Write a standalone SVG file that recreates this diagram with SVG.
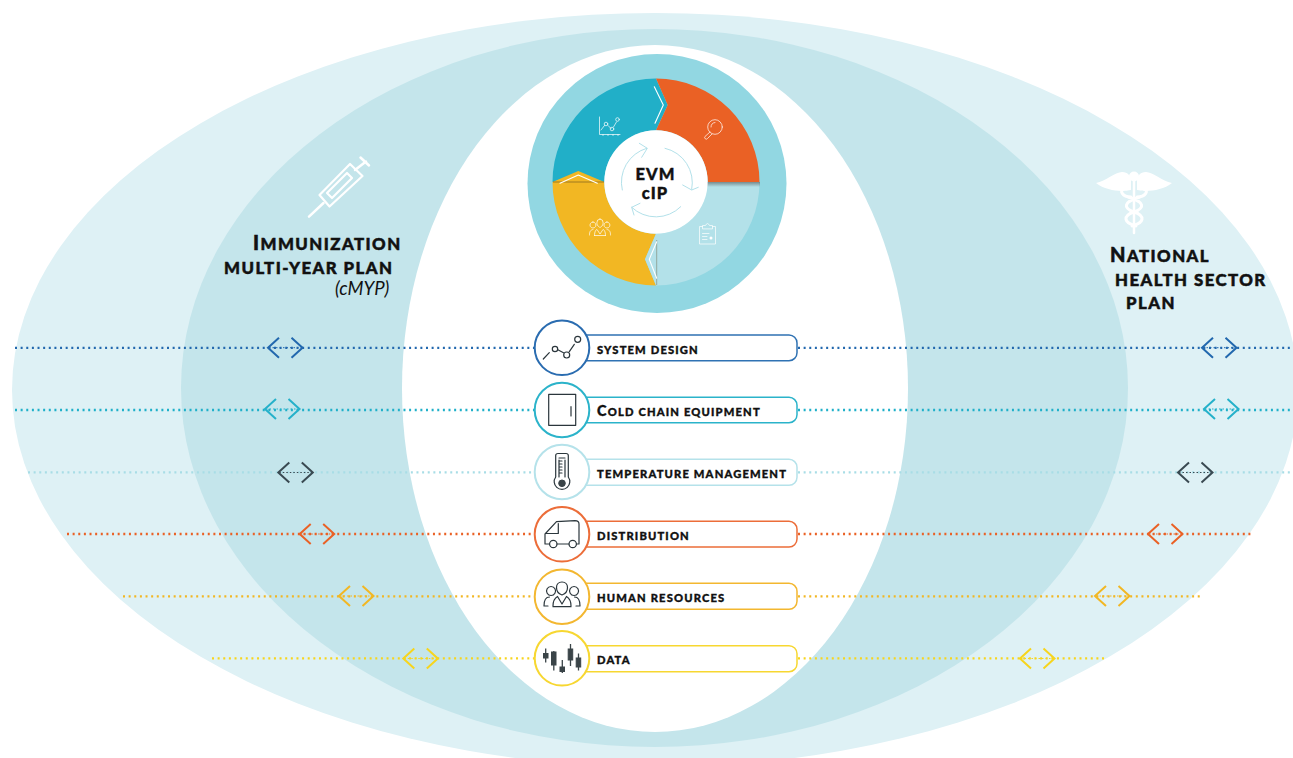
<svg xmlns="http://www.w3.org/2000/svg" xmlns:xlink="http://www.w3.org/1999/xlink" width="1293" height="758" viewBox="0 0 1293 758">
<style>
text{font-family:"Lato","Open Sans","Liberation Sans",sans-serif;fill:#111}
.lab{font-size:11.2px;font-weight:900;text-transform:uppercase;letter-spacing:1.15px;stroke:#111;stroke-width:.35px}
.lab .cap{font-size:14.5px}
.head{font-size:16.8px;font-weight:900;text-transform:uppercase;letter-spacing:1.45px;stroke:#111;stroke-width:.5px}
.head .cap{font-size:20px}
.sub{font-size:18.5px;font-style:italic}
.evm{font-size:16.5px;font-weight:900;letter-spacing:1px;text-anchor:middle;stroke:#111;stroke-width:.4px}
.dot{fill:none;stroke-width:2.300;stroke-dasharray:2 3.630}
.chev{fill:none;stroke:currentColor;stroke-width:2}
.inner{fill:none;stroke:currentColor;stroke-width:1;stroke-dasharray:1.5 2}
.pill{fill:#fff;stroke-width:1.5}
.ring{fill:#fff;stroke-width:2}
.ic{fill:none;stroke:#2b363c;stroke-width:1.2;stroke-linecap:round;stroke-linejoin:round}
.icf{fill:#3a4448;stroke:#3a4448;stroke-width:1}
.w{fill:none;stroke:#fff;stroke-width:.7;stroke-linecap:round;stroke-linejoin:round}
.wc{fill:none;stroke:#fff;stroke-width:1.1;stroke-linecap:round;stroke-linejoin:round}
.wa{fill:none;stroke:#a9dde6;stroke-width:.9;stroke-linecap:round;stroke-linejoin:round}
.sy{fill:none;stroke:#fff;stroke-linecap:round;stroke-linejoin:round}
</style>
<defs>
<g id="dbl"><path class="inner" d="M1 0H34"/><path class="chev" d="M11-10 0 0 11 10M23.5-10 34.5 0 23.5 10"/></g>
<linearGradient id="sh" x1="0" y1="0" x2="0" y2="1"><stop offset="0" stop-color="#444" stop-opacity=".55"/><stop offset="1" stop-color="#444" stop-opacity="0"/></linearGradient>
</defs>
<rect width="1293" height="758" fill="#fff"/>
<g id="backdrop">
<ellipse id="outer-plan" cx="655" cy="390" rx="643" ry="377" fill="#def1f5"/>
<ellipse id="middle-plan" cx="654.5" cy="388" rx="473.5" ry="359" fill="#c4e5eb"/>
<ellipse id="core" cx="655" cy="388.5" rx="253" ry="343.5" fill="#fff"/>
</g>
<g id="connectors">
<path class="dot" stroke="#2268ae" d="M15 347.800H534M798 347.800H1293"/>
<path class="dot" stroke="#1fb0c9" d="M15 410H534M798 410H1293"/>
<path class="dot" stroke="#a8dde6" d="M28 472.300H534M798 472.300H1290"/>
<path class="dot" stroke="#ea6125" d="M67 534H534M798 534H1252"/>
<path class="dot" stroke="#f2b723" d="M123 596.300H534M798 596.300H1200"/>
<path class="dot" stroke="#f7d51d" d="M212 658.300H534M798 658.300H1107"/>
<use href="#dbl" x="268" y="347.700" color="#2268ae"/><use href="#dbl" x="1202" y="347.700" color="#2268ae"/>
<use href="#dbl" x="265" y="409" color="#25b1ca"/><use href="#dbl" x="1204" y="409" color="#25b1ca"/>
<use href="#dbl" x="278.300" y="472.500" color="#3a4a52"/><use href="#dbl" x="1178" y="472.500" color="#3a4a52"/>
<use href="#dbl" x="299.700" y="534" color="#ea6125"/><use href="#dbl" x="1148" y="534" color="#ea6125"/>
<use href="#dbl" x="339" y="596" color="#f2b723"/><use href="#dbl" x="1095" y="596" color="#f2b723"/>
<use href="#dbl" x="403.300" y="658.500" color="#f7d51d"/><use href="#dbl" x="1020" y="658.500" color="#f7d51d"/>
</g>
<g id="evm-wheel">
<circle cx="657" cy="183.500" r="129.500" fill="#92d7e2"/>
<path id="seg-data" fill="#21afc8" d="M656 78.500A103.500 103.500 0 0 0 552.500 182H604.300A51.700 51.700 0 0 1 656 130.300L667.700 105Z"/>
<path id="seg-assess" fill="#ea6125" d="M656 78.500A103.500 103.500 0 0 1 759.500 182H707.700A51.700 51.700 0 0 0 656 130.300L667.700 105Z"/>
<path id="seg-plan" fill="#b3e1e9" d="M759.500 182A103.500 103.500 0 0 1 656 285.500V233.700A51.700 51.700 0 0 0 707.700 182Z"/>
<path id="seg-act" fill="#f2b723" d="M656 285.500A103.500 103.500 0 0 1 552.500 182L578.300 171 604.300 182A51.700 51.700 0 0 0 656 233.700L645 259.300Z"/>
<path fill="#b3e1e9" d="M656 233.700 645 259.300 656 285.500Z"/>
<rect x="700" y="182" width="60" height="5" fill="url(#sh)"/>
<path d="M553 182H604" stroke="#8a6a20" stroke-width=".8"/>
<path d="M656.700 240V285" stroke="#8a9a8a" stroke-width=".8"/>
<path class="wc" d="M654.300 86.700 663.300 105 655 123.300M560 183.300 578.300 175 597.300 183.300M656.700 241.700 649.300 259.300 656.700 278.300"/>
<circle cx="656" cy="182" r="51.700" fill="#fff"/>
<g id="cycle-arrows">
<path class="wa" d="M622.300 190A35 35 0 0 1 646.700 148.300M639.300 143.300 647.300 148.300 641.700 157.300"/>
<path class="wa" d="M665 148.300A35 35 0 0 1 691.700 189.300M682.700 185 691.700 190 698.300 187.300"/>
<path class="wa" d="M680.700 206.700A35 35 0 0 1 631.700 207.300M640 203.300 631.700 207.300 634 215"/>
</g>
<g id="wheel-icons">
<path class="w" d="M599.500 117V134.500H620M603 134.500v1M608 134.500v1M613 134.500v1M618 134.500v1M601 130 604.500 125.500M608 125.500 611 128.500M613.500 127 616.500 122"/>
<circle class="w" cx="606" cy="124" r="1.800"/><circle class="w" cx="612" cy="129" r="1.800"/><circle class="w" cx="617.500" cy="119.500" r="1.800"/>
<circle class="w" cx="715" cy="127" r="7.300"/><path class="w" d="M710 132 705 136.500a1.600 1.600 0 0 0 2.500 2L712 134M711 127a4.500 4.500 0 0 1 4-4.500"/>
<path class="w" d="M702.500 226.500H699.500V244H715.500V226.500H712.500M702.500 228.500V225.500H705.500Q707.500 221.500 709.500 225.500H712.500V228.500ZM702.500 233.500H709M702.500 236.500H707M702.500 239.500H707"/>
<circle cx="711" cy="238" r="1.500" fill="#fff"/>
<path class="w" d="M600 219a3.200 4 0 0 1 3.200 4c0 3-3.200 4.500-3.200 4.500s-3.200-1.500-3.200-4.500a3.200 4 0 0 1 3.200-4ZM593 222a3 3 0 1 1-.1 0ZM607 222a3 3 0 1 1-.1 0ZM589.500 235c0-3 .5-5 3.500-5.500M610.500 235c0-3-.5-5-3.500-5.500M594.500 235.500c0-4 1.500-6 2.500-6l3 4.500 3-4.500c1 0 2.500 2 2.500 6M594.500 235.500H605.500"/>
</g>
<g id="wheel-title">
<text class="evm" x="655.500" y="180">EVM</text>
<text class="evm" x="655" y="199">cIP</text>
</g>
</g>
<g id="immunization-plan">
<g id="syringe">
<path class="sy" stroke-width="2.500" d="M309 216.700 323.500 203"/>
<path class="sy" stroke-width="2.200" d="M319.500 195 350 164 362.500 176 329.500 206.500Z"/>
<path class="sy" stroke-width="2.200" d="M327 193 347 173 352 178 332 198Z"/>
<path class="sy" stroke-width="2.500" d="M355 170 366 161.500M360.500 157.500 369 165.500"/>
</g>
<text class="head" x="253" y="249.500"><tspan class="cap">I</tspan>mmunization</text>
<text class="head" x="224" y="274">multi-year plan</text>
<text class="sub" x="335" y="295">(cMYP)</text>
</g>
<g id="health-plan">
<g id="caduceus">
<path fill="#fff" d="M1096 183C1106 181 1115 172 1122 172 1128 172 1131 176 1131 181V190C1122 192 1106 191 1096 183Z"/>
<path fill="#fff" d="M1172 183C1162 181 1153 172 1146 172 1140 172 1137 176 1137 181V190C1146 192 1162 191 1172 183Z"/>
<circle cx="1134" cy="176.500" r="5" fill="#fff"/>
<path class="sy" stroke-width="2.500" d="M1134 180V233"/>
<path class="sy" stroke-width="3" d="M1131 197C1122 197 1119 190 1124 189M1137 197C1146 197 1149 190 1144 189M1128 197C1145 202 1145 208 1134 212 1122 216 1124 223 1136 226M1140 197C1123 202 1123 208 1134 212 1146 216 1144 223 1132 226"/>
</g>
<text class="head" x="1110" y="261.500"><tspan class="cap">N</tspan>ational</text>
<text class="head" x="1115" y="285.500">health sector</text>
<text class="head" x="1126" y="309">plan</text>
</g>
<g id="row-system-design">
<path class="pill" stroke="#2f72b3" d="M562 335H789A8 8 0 0 1 797 343V352.700A8 8 0 0 1 789 360.700H562Z"/>
<circle class="ring" stroke="#2a6cb0" cx="562" cy="347.800" r="27.300"/>
<path class="ic" d="M543.300 359 549.300 352.700M558.300 350 563.500 352.700M569.300 351.700 574.300 344.300"/>
<circle class="ic" cx="555" cy="349" r="2.700"/><circle class="ic" cx="566.700" cy="355" r="3"/><circle class="ic" cx="577.700" cy="339.300" r="3"/>
<text class="lab" x="597" y="354">system design</text>
</g>
<g id="row-cold-chain">
<path class="pill" stroke="#2bb3ca" d="M562 397.300H789A8 8 0 0 1 797 405.300V414.700A8 8 0 0 1 789 422.700H562Z"/>
<circle class="ring" stroke="#2bb3ca" cx="562" cy="410" r="27.300"/>
<path class="ic" d="M548.700 394.300H575.700V425.300H548.700ZM571 406.700V416"/>
<text class="lab" x="597" y="416"><tspan class="cap">C</tspan>old chain equipment</text>
</g>
<g id="row-temperature">
<path class="pill" stroke="#b5e2ea" d="M562 459.300H789A8 8 0 0 1 797 467.300V477.300A8 8 0 0 1 789 485.300H562Z"/>
<circle class="ring" stroke="#b5e2ea" cx="562" cy="472" r="27.300"/>
<path class="ic" d="M555.700 477V455.500Q555.700 453.500 558 453.500H566Q568.300 453.500 568.300 455.500V477A7.800 7.800 0 1 1 555.700 477ZM559 477V460M565 477V460M559 458H565M559 461H562M559 464H562M559 467H562M559 470H562M559 473H562"/>
<circle class="icf" cx="562" cy="483.300" r="3.300"/>
<text class="lab" x="597" y="478">temperature management</text>
</g>
<g id="row-distribution">
<path class="pill" stroke="#ec6d39" d="M562 521.300H789A8 8 0 0 1 797 529.300V539A8 8 0 0 1 789 547H562Z"/>
<circle class="ring" stroke="#ec6d39" cx="562" cy="534.300" r="27.300"/>
<path class="ic" d="M549.500 544H545V534L556.500 521.700 575 520.700Q579 520.700 579 524V544H576.500M557 544H569M558.300 523.500V533.500H546.500"/>
<circle class="ic" cx="553.300" cy="544" r="3.700"/><circle class="ic" cx="572.700" cy="544" r="3.700"/>
<text class="lab" x="597" y="540">distribution</text>
</g>
<g id="row-human-resources">
<path class="pill" stroke="#f3b730" d="M562 583.300H789A8 8 0 0 1 797 591.300V601.300A8 8 0 0 1 789 609.300H562Z"/>
<circle class="ring" stroke="#f3b730" cx="562" cy="596.700" r="27.300"/>
<path class="ic" d="M562 582C558 582 556.500 585 556.500 587.500 556.500 591 559 594 562 595 565 594 567.500 591 567.500 587.500 567.500 585 566 582 562 582ZM551 586.500A4.500 4.500 0 1 0 551.100 586.500ZM574 586.500A4.500 4.500 0 1 0 574.100 586.500ZM544 606C544 600 546 597 549.500 597M580 606C580 600 578 597 574.500 597M544 606H548M580 606H576M553 606C553 600 555 598 557.500 596.500L562 604 566.500 596.500C569 598 571 600 571 606M553 606.700H571"/>
<text class="lab" x="597" y="602">human resources</text>
</g>
<g id="row-data">
<path class="pill" stroke="#f7d731" d="M562 645.700H789A8 8 0 0 1 797 653.700V663.700A8 8 0 0 1 789 671.700H562Z"/>
<circle class="ring" stroke="#f7d731" cx="562" cy="658.300" r="27.300"/>
<path d="M545.700 648.500V662.500M553.800 651V670.500M562.300 660V673M570.500 644V666M578.500 653.500V670.500" stroke="#3a4448" stroke-width="1.300"/>
<rect class="icf" x="543.500" y="653.500" width="4.500" height="4.500"/><rect class="icf" x="551.500" y="652" width="4.500" height="13"/><rect class="icf" x="560" y="667" width="4.500" height="4.500"/><rect class="icf" x="568.200" y="649" width="4.500" height="11"/><rect class="icf" x="576.200" y="658" width="4.500" height="9"/>
<text class="lab" x="597" y="664">data</text>
</g>
</svg>
